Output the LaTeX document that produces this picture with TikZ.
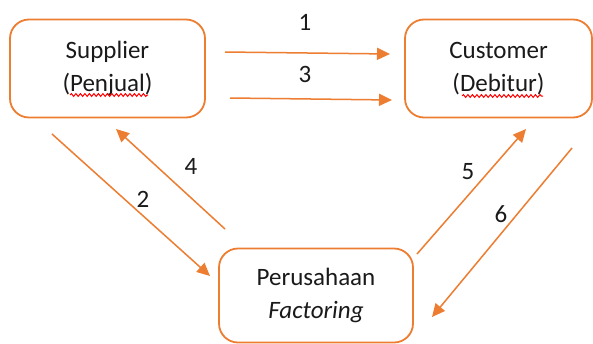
\documentclass[tikz,border=0pt]{standalone}
\usepackage{fontspec}
\setmainfont{Carlito}
\usetikzlibrary{arrows.meta,decorations.pathmorphing}
\definecolor{org}{HTML}{ED7D31}
\definecolor{txt}{HTML}{1A1A1A}
\begin{document}
\begin{tikzpicture}[x=1pt,y=-1pt,
  box/.style={draw=org, line width=1.8pt, rounded corners=19pt, align=center,
    font=\fontsize{25}{33}\selectfont, text=txt, inner sep=0pt},
  arr/.style={draw=org, line width=1.5pt, -{Triangle[length=13pt,width=12pt]}},
  lbl/.style={font=\fontsize{25}{30}\selectfont, text=txt, inner sep=0pt},
  squig/.style={draw=red, line width=1pt, decorate,
    decoration={snake, amplitude=1.4pt, segment length=4.5pt}}]
\useasboundingbox (0,0) rectangle (593,343);
\fill[white] (0,0) rectangle (593,343);

\node[box, minimum width=195pt, minimum height=98pt] (sup) at (107.5,68.5) {Supplier\\(Penjual)};
\node[box, minimum width=187pt, minimum height=98pt] (cus) at (498.5,68.5) {Customer\\(Debitur)};
\node[box, minimum width=194pt, minimum height=94pt] (fac) at (316,295.5) {Perusahaan\\\textit{Factoring}};

\draw[squig] (70,95) -- (148,95);
\draw[squig] (462,96) -- (543,96);

\coordinate (a1s) at (225,52);  \coordinate (a1e) at (390,54);
\coordinate (a3s) at (230,98);  \coordinate (a3e) at (392,100);
\coordinate (a2s) at (52,134);  \coordinate (a2e) at (210,276);
\coordinate (a4s) at (225,229); \coordinate (a4e) at (116,129);
\coordinate (a5s) at (417,254); \coordinate (a5e) at (526,129);
\coordinate (a6s) at (572,148); \coordinate (a6e) at (432,317);

\draw[arr] (a1s) -- (a1e);
\draw[arr] (a3s) -- (a3e);
\draw[arr] (a2s) -- (a2e);
\draw[arr] (a4s) -- (a4e);
\draw[arr] (a5s) -- (a5e);
\draw[arr] (a6s) -- (a6e);

\node[lbl] (l1) at (305,22) {1};
\node[lbl] (l3) at (305,74) {3};
\node[lbl] (l2) at (143,199) {2};
\node[lbl] (l4) at (191,166) {4};
\node[lbl] (l5) at (468,172) {5};
\node[lbl] (l6) at (501,214) {6};
\end{tikzpicture}
\end{document}
